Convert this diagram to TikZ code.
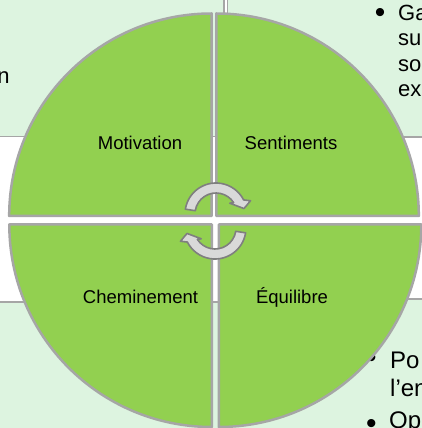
\documentclass[tikz,border=0pt]{standalone}
\usepackage{fontspec}
\setmainfont{Liberation Sans}
\definecolor{piefill}{HTML}{92D050}
\definecolor{piebd}{HTML}{A6A6A6}
\definecolor{boxfill}{HTML}{DDF4E0}
\definecolor{boxbd}{HTML}{A6A6A6}
\definecolor{arrfill}{HTML}{D9D9D9}
\definecolor{arrbd}{HTML}{7F7F7F}
\begin{document}
\begin{tikzpicture}[x=1pt,y=1pt,
  bgbox/.style={fill=boxfill, draw=boxbd, line width=1.8pt},
  quad/.style={fill=piefill, draw=piebd, line width=2.5pt, line join=round},
  lbl/.style={font=\fontsize{18.5}{22}\selectfont, inner sep=0pt, anchor=base},
  txtA/.style={font=\fontsize{22}{25}\selectfont, inner sep=0pt, anchor=base west},
  txtB/.style={font=\fontsize{24}{28}\selectfont, inner sep=0pt, anchor=base west},
  blt/.style={font=\fontsize{30}{30}\selectfont, inner sep=0pt, anchor=base west},
  cyc/.style={fill=arrfill, draw=arrbd, line width=1.6pt, line join=round}]
\useasboundingbox (0,0) rectangle (422,428);
\clip (0,0) rectangle (422,428);
\fill[white] (0,0) rectangle (422,428);
% background boxes
\path[bgbox] (-10,291.5) rectangle (224,440);
\path[bgbox] (227.5,291) rectangle (440,440);
\path[bgbox] (-10,-10) rectangle (224,126.3);
\path[bgbox] (227.5,-10) rectangle (440,129);
% box texts
\node[txtA, anchor=base east] (tl1) at (9.8,344.7) {n};
\node[blt] (trb) at (374.7,405.5) {•};
\node[txtA] (tr1) at (398,407.3) {Ga};
\node[txtA] (tr2) at (398,382) {su};
\node[txtA] (tr3) at (398,356.5) {so};
\node[txtA] (tr4) at (398,331.3) {ex};
\node[blt] (brb1) at (366,60) {•};
\node[txtB] (br1) at (390,59.7) {Po};
\node[txtB] (br2) at (390,31.3) {l’en};
\node[blt] (brb2) at (366,-5.5) {•};
\node[txtB] (br3) at (389,-0.5) {Op};
% pie quadrants
\path[quad] (211.7,212) -- ++(-202.5,0) arc[start angle=180, end angle=90, radius=202.5] -- cycle;
\path[quad] (216.3,212) -- ++(0,202.5) arc[start angle=90, end angle=0, radius=202.5] -- cycle;
\path[quad] (211.8,203.5) -- ++(-202.5,0) arc[start angle=180, end angle=270, radius=202.5] -- cycle;
\path[quad] (218.8,203.5) -- ++(202.5,0) arc[start angle=0, end angle=-90, radius=202.5] -- cycle;
% labels
\node[lbl] (mot) at (140,278) {Motivation};
\node[lbl] (sen) at (291,278) {Sentiments};
\node[lbl] (che) at (140.5,124.7) {Cheminement};
\node[lbl] (equ) at (292,124) {Équilibre};
% cycle arrows
\begin{scope}[shift={(216,214)}]
\draw[cyc] (171:31) arc[start angle=171, end angle=27, radius=31] -- (21:37) -- (11:28.5) -- (38:17.5) -- (33:21) arc[start angle=33, end angle=171, radius=21] -- cycle;
\end{scope}
\begin{scope}[shift={(215,200)}]
\draw[cyc] (351:31) arc[start angle=351, end angle=207, radius=31] -- (201:37) -- (191:28.5) -- (218:17.5) -- (213:21) arc[start angle=213, end angle=351, radius=21] -- cycle;
\end{scope}
\end{tikzpicture}
\end{document}
